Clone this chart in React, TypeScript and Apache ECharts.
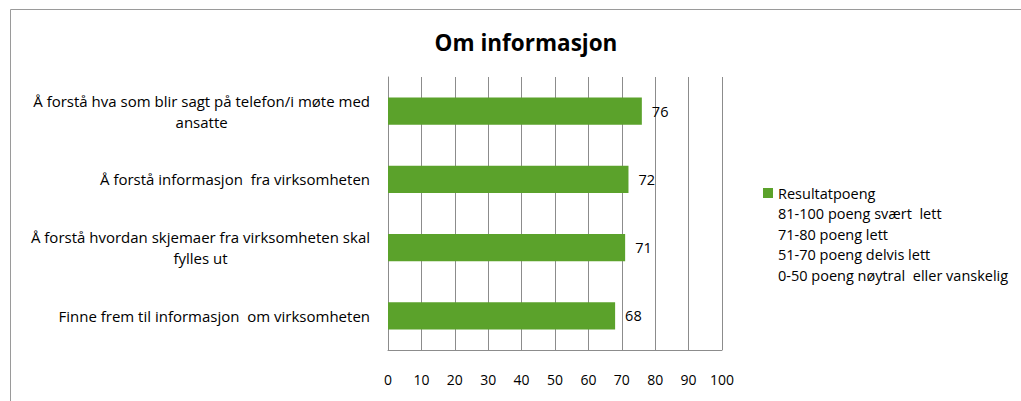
import React, { useEffect, useRef } from "react";
import * as echarts from "echarts";

const title = "Om informasjon";
const categories = [
  "Å forstå hva som blir sagt på telefon/i møte med\nansatte",
  "Å forstå informasjon  fra virksomheten",
  "Å forstå hvordan skjemaer fra virksomheten skal\nfylles ut",
  "Finne frem til informasjon  om virksomheten",
];
const values = [76, 72, 71, 68];
const seriesName = "Resultatpoeng";
const legendExtras = [
  "81-100 poeng svært  lett",
  "71-80 poeng lett",
  "51-70 poeng delvis lett",
  "0-50 poeng nøytral  eller vanskelig",
];

const FONT = "Open Sans";

export default function App() {
  const ref = useRef<HTMLDivElement>(null);
  useEffect(() => {
    if (!ref.current) return;
    const chart = echarts.init(ref.current, undefined, { renderer: "svg" });
    const extraSeries = legendExtras.map((n) => ({
      name: n,
      type: "bar",
      stack: "s",
      data: [],
      itemStyle: { color: "rgba(0,0,0,0)" },
    }));
    chart.setOption({
      animation: false,
      backgroundColor: "#fff",
      textStyle: { fontFamily: FONT },
      title: {
        text: title,
        left: 521,
        textAlign: "center",
        top: 26,
        textStyle: { fontFamily: FONT, fontSize: 22.5, fontWeight: "bold", color: "#000" },
      },
      graphic: [
        {
          type: "rect",
          shape: { x: 10.5, y: 9.5, width: 1100, height: 500 },
          style: { fill: "none", stroke: "#9a9a9a", lineWidth: 1 },
          silent: true,
        },
      ],
      legend: {
        orient: "vertical",
        left: 763,
        top: 185.5,
        padding: 0,
        itemWidth: 10,
        itemHeight: 10,
        itemGap: 5.5,
        icon: "rect",
        selectedMode: false,
        textStyle: { fontFamily: FONT, fontSize: 14.5, color: "#000", lineHeight: 15 },
        data: [seriesName, ...legendExtras],
      },
      grid: { left: 388, right: 299, top: 77, bottom: 51, containLabel: false },
      xAxis: {
        type: "value",
        min: 0,
        max: 100,
        interval: 10,
        axisLine: { show: true, lineStyle: { color: "#8c8c8c" } },
        axisTick: { show: false },
        splitLine: { show: true, lineStyle: { color: "#8c8c8c" } },
        axisLabel: { margin: 22, color: "#000", fontSize: 14, fontFamily: FONT },
      },
      yAxis: {
        type: "category",
        inverse: true,
        data: categories,
        axisLine: { show: true, lineStyle: { color: "#8c8c8c" } },
        axisTick: { show: false },
        axisLabel: {
          margin: 18,
          color: "#000",
          fontSize: 15,
          fontFamily: FONT,
          lineHeight: 21,
          formatter: (v: string) =>
            v
              .split("\n")
              .map((l) => "{c|" + l + "}")
              .join("\n"),
          rich: {
            c: { align: "center", fontSize: 15, fontFamily: FONT, color: "#000", lineHeight: 21 },
          },
        },
      },
      series: [
        {
          name: seriesName,
          type: "bar",
          stack: "s",
          data: values,
          barWidth: "40%",
          itemStyle: { color: "#5ba22b" },
          label: {
            show: true,
            position: "right",
            distance: 10,
            color: "#000",
            fontSize: 14.5,
            fontFamily: FONT,
          },
        },
        ...extraSeries,
      ],
    });
    return () => chart.dispose();
  }, []);
  return (
    <div
      ref={ref}
      style={{ position: "absolute", left: 0, top: 0, width: 1021, height: 401 }}
    />
  );
}
